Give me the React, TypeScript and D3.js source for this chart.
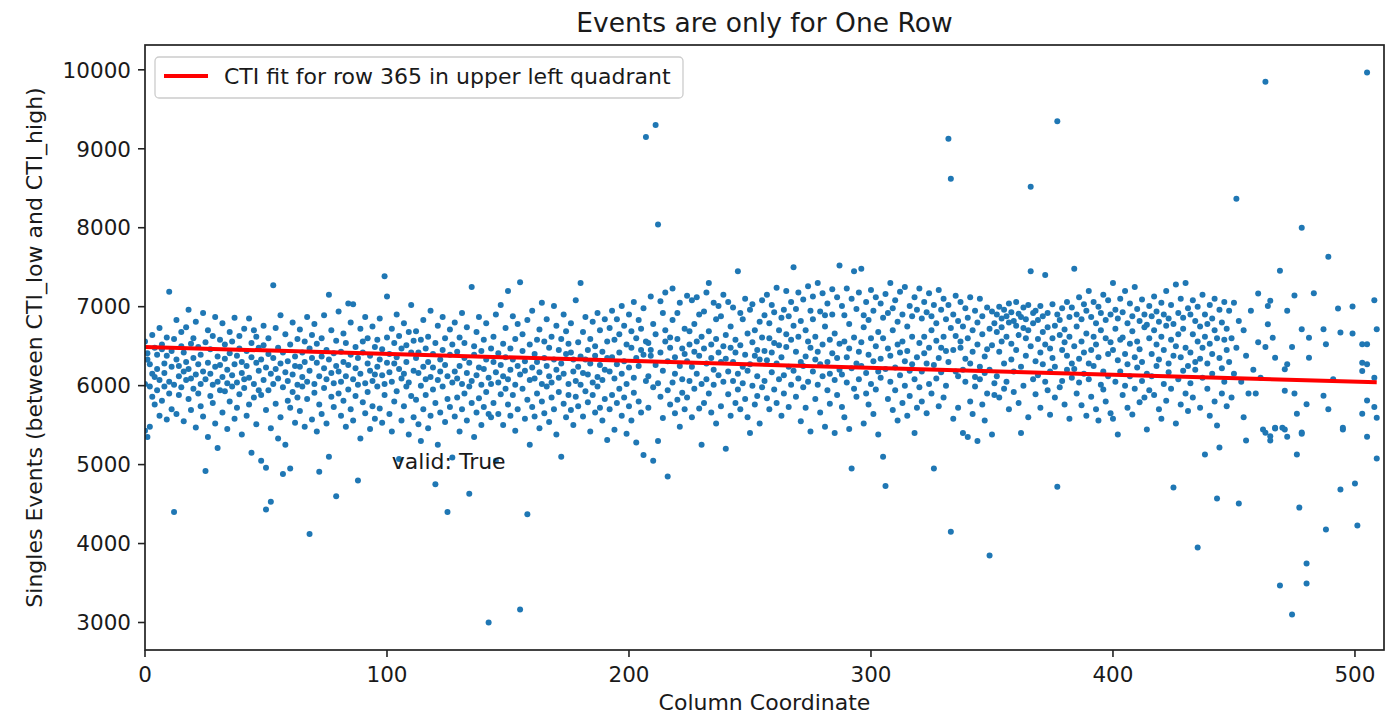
import React from 'react';
import * as d3 from 'd3';

const title = 'Events are only for One Row';
const xLabel = 'Column Coordinate';
const yLabel = 'Singles Events (between CTI_low and CTI_high)';
const legendLabel = 'CTI fit for row 365 in upper left quadrant';
const annotation = 'valid: True';
const annotationAt = [102, 4950];
const xTicks = [0, 100, 200, 300, 400, 500];
const yTicks = [3000, 4000, 5000, 6000, 7000, 8000, 9000, 10000];
const xDomain = [0, 512];
const fitX = [0, 509];
const fitY = [6490, 6043];

const cols000 = [[0,6560],[0,5430],[0,6020],[1,5350],[1,6410],[1,6330],[2,5480],[2,5990],[2,6270],[3,6150],[3,6640],[3,5860],[4,5760],[4,6110],[4,6480],[5,6390],[5,6210],[5,5940],[6,6730],[6,5620],[6,6070],[7,6460],[7,6520],[7,5810],[8,5990],[8,6280],[8,6160],[9,5570],[9,6610],[9,6380],[10,7190],[10,6050],[10,5900],[11,6240],[11,5700],[11,6440],[12,4400],[12,6010],[12,6590],[13,6330],[13,6830],[13,5640],[14,6120],[14,5880],[14,6250],[15,6500],[15,5980],[15,6680]];
const cols016 = [[16,6180],[16,5550],[16,6420],[17,6070],[17,6740],[17,6300],[18,5830],[18,6210],[18,6960],[19,6530],[19,5690],[19,6090],[20,6350],[20,6600],[20,5960],[21,5470],[21,6140],[21,6810],[22,6270],[22,5900],[22,6490],[23,6020],[23,6390],[23,5740],[24,6920],[24,6180],[24,5610],[25,4920],[25,6550],[25,6080],[26,5350],[26,6290],[26,6700],[27,6460],[27,5870],[27,6150],[28,6010],[28,6630],[28,5780],[29,6240],[29,5520],[29,6870],[30,5210],[30,6370],[30,6050],[31,6580],[31,5940],[31,6260]];
const cols032 = [[32,6110],[32,6790],[32,5660],[33,6340],[33,5930],[33,6520],[34,5450],[34,6200],[34,6030],[35,6680],[35,6410],[35,5800],[36,5990],[36,6560],[36,6130],[37,6270],[37,5580],[37,6860],[38,6380],[38,6040],[38,5720],[39,5890],[39,6470],[39,6630],[40,6160],[40,5380],[40,6300],[41,6720],[41,5970],[41,6080],[42,5620],[42,6440],[42,6250],[43,6850],[43,6100],[43,5760],[44,5150],[44,6360],[44,6540],[45,6020],[45,5850],[45,6700],[46,6290],[46,6620],[46,5510],[47,5940],[47,6190],[47,6480]];
const cols048 = [[48,5050],[48,6330],[48,5880],[49,6510],[49,6070],[49,6760],[50,4430],[50,4960],[50,6230],[50,5690],[51,6400],[51,5940],[51,6600],[52,4530],[52,6150],[52,5460],[53,7270],[53,6020],[53,6350],[54,6730],[54,5770],[54,6210],[55,5330],[55,6480],[55,6090],[56,6280],[56,6890],[56,5600],[57,4880],[57,5980],[57,6420],[58,6170],[58,6650],[58,5250],[59,5810],[59,6310],[59,6060],[60,4950],[60,6520],[60,5720],[61,6800],[61,6140],[61,5920],[62,6370],[62,5530],[62,6250],[63,6010],[63,6590],[63,5850]];
const cols064 = [[64,6240],[64,5680],[64,6710],[65,6420],[65,5990],[65,6110],[66,5480],[66,6560],[66,6300],[67,6870],[67,6050],[67,5830],[68,4120],[68,6190],[68,6470],[69,5570],[69,6350],[69,6640],[70,6020],[70,6780],[70,5910],[71,6290],[71,5420],[71,6530],[72,4910],[72,6120],[72,5760],[73,6600],[73,6370],[73,5640],[74,5970],[74,6220],[74,6890],[75,6450],[75,5520],[75,6080],[76,7150],[76,5100],[76,6330],[77,5860],[77,6700],[77,6160],[78,6410],[78,5730],[78,6030],[79,4600],[79,6250],[79,6570]];
const cols080 = [[80,6940],[80,5900],[80,6180],[81,5620],[81,6430],[81,6050],[82,6300],[82,6660],[82,5810],[83,5480],[83,6120],[83,6540],[84,7040],[84,6260],[84,5950],[85,6390],[85,5700],[85,6800],[86,7030],[86,6080],[86,5560],[87,6220],[87,6490],[87,5870],[88,4800],[88,6350],[88,6010],[89,5330],[89,6720],[89,6150],[90,6560],[90,5790],[90,6420],[91,6030],[91,6870],[91,5650],[92,6280],[92,5920],[92,6600],[93,5450],[93,6190],[93,6380],[94,6750],[94,6060],[94,5740],[95,6140],[95,5580],[95,6490]];
const cols096 = [[96,5990],[96,6580],[96,6240],[97,6330],[97,5710],[97,6850],[98,5530],[98,6130],[98,6460],[99,7384],[99,6020],[99,5880],[100,7130],[100,6290],[100,6610],[101,5640],[101,6400],[101,6170],[102,6720],[102,5420],[102,6050],[103,6280],[103,6540],[103,5800],[104,5930],[104,6360],[104,6900],[105,5070],[105,6210],[105,6630],[106,6470],[106,5560],[106,6090],[107,6790],[107,6150],[107,5740],[108,5990],[108,6510],[108,6300],[109,5380],[109,6680],[109,6040],[110,7020],[110,5870],[110,6420],[111,6190],[111,5600],[111,6570]];
const cols112 = [[112,6350],[112,5820],[112,6690],[113,5510],[113,6160],[113,6420],[114,5300],[114,6580],[114,6000],[115,6240],[115,5700],[115,6830],[116,6470],[116,6080],[116,5880],[117,5460],[117,6300],[117,6620],[118,6950],[118,6110],[118,5620],[119,6400],[119,5950],[119,6230],[120,4750],[120,6540],[120,5780],[121,5250],[121,6070],[121,6760],[122,6330],[122,5660],[122,6180],[123,6870],[123,5990],[123,6450],[124,5540],[124,6260],[124,6600],[125,4400],[125,6120],[125,5830],[126,6710],[126,6390],[126,5730],[127,5090],[127,6040],[127,6520]];
const cols128 = [[128,6180],[128,5610],[128,6800],[129,6430],[129,5850],[129,6090],[130,5420],[130,6610],[130,6250],[131,6020],[131,6920],[131,5700],[132,6350],[132,5900],[132,6540],[133,5560],[133,6160],[133,6740],[134,4630],[134,6290],[134,5990],[135,7250],[135,6060],[135,5780],[136,5350],[136,6500],[136,6390],[137,6680],[137,5660],[137,6130],[138,6230],[138,5840],[138,6870],[139,5500],[139,6440],[139,6010],[140,6580],[140,5730],[140,6210],[141,5920],[141,6330],[141,6790],[142,3000],[142,6100],[142,5640],[143,6470],[143,6020],[143,5600]];
const cols144 = [[144,6300],[144,5780],[144,6620],[145,5050],[145,6170],[145,6900],[146,5640],[146,6410],[146,6040],[147,7020],[147,6260],[147,5890],[148,5500],[148,6530],[148,6120],[149,6730],[149,5960],[149,6360],[150,7200],[150,5760],[150,6080],[151,6470],[151,6200],[151,5620],[152,6880],[152,5880],[152,6330],[153,5430],[153,6590],[153,6010],[154,6250],[154,6780],[154,5700],[155,3165],[155,7310],[155,6140],[156,5960],[156,6440],[156,6650],[157,5580],[157,6190],[157,6310],[158,4370],[158,6830],[158,5820],[159,6070],[159,6520],[159,5250]];
const cols160 = [[160,6950],[160,6230],[160,5730],[161,5610],[161,6400],[161,6090],[162,6580],[162,5900],[162,6300],[163,5460],[163,6710],[163,6170],[164,7050],[164,6020],[164,5800],[165,6350],[165,6560],[165,5650],[166,5990],[166,6840],[166,6250],[167,5540],[167,6120],[167,6480],[168,6620],[168,5850],[168,6040],[169,7010],[169,6330],[169,5700],[170,5380],[170,6200],[170,6760],[171,6450],[171,5920],[171,6100],[172,5100],[172,6590],[172,6280],[173,6900],[173,5770],[173,6150],[174,5600],[174,6400],[174,6690],[175,6020],[175,6530],[175,5880]];
const cols176 = [[176,6420],[176,5690],[176,6790],[177,5500],[177,6180],[177,6330],[178,7080],[178,5860],[178,6060],[179,6550],[179,6240],[179,5740],[180,7300],[180,6010],[180,6370],[181,5610],[181,6680],[181,6160],[182,6330],[182,5930],[182,6870],[183,6450],[183,5790],[183,6140],[184,5420],[184,6590],[184,6280],[185,6810],[185,6040],[185,5880],[186,5660],[186,6380],[186,6500],[187,6920],[187,6110],[187,5990],[188,5720],[188,6260],[188,6700],[189,6430],[189,5560],[189,6070],[190,6840],[190,6200],[190,5830],[191,5310],[191,6560],[191,6350]];
const cols192 = [[192,6180],[192,6730],[192,5700],[193,6360],[193,5880],[193,6950],[194,5440],[194,6090],[194,6580],[195,6270],[195,6840],[195,5780],[196,5960],[196,6420],[196,6650],[197,7010],[197,5620],[197,6150],[198,6310],[198,5850],[198,6760],[199,5390],[199,6520],[199,6020],[200,6900],[200,6230],[200,5740],[201,5560],[201,6480],[201,6690],[202,7060],[202,6100],[202,5910],[203,5280],[203,6350],[203,6600],[204,6830],[204,5800],[204,6250],[205,6450],[205,5660],[205,6720],[206,5120],[206,6390],[206,6980],[207,9150],[207,6060],[207,6560]];
const cols208 = [[208,6120],[208,6540],[208,5720],[209,7130],[209,6380],[209,6450],[210,5050],[210,5980],[210,6780],[211,9300],[211,6650],[211,6260],[212,8040],[212,5300],[212,6030],[213,6420],[213,7070],[213,5860],[214,5590],[214,6190],[214,6920],[215,7180],[215,6560],[215,6700],[216,4850],[216,6310],[216,5940],[217,6610],[217,5760],[217,6480],[218,7230],[218,6040],[218,6830],[219,5650],[219,6360],[219,6150],[220,6590],[220,6920],[220,5820],[221,5480],[221,6250],[221,7050],[222,6470],[222,6080],[222,5910],[223,6720],[223,5700],[223,6400]];
const cols224 = [[224,7140],[224,6310],[224,5850],[225,6520],[225,6690],[225,6060],[226,5600],[226,6240],[226,7080],[227,6430],[227,5960],[227,6780],[228,7120],[228,6150],[228,6560],[229,5710],[229,6380],[229,6900],[230,5250],[230,6620],[230,6020],[231,6940],[231,6470],[231,5780],[232,7180],[232,6280],[232,6080],[233,7300],[233,5900],[233,6690],[234,6350],[234,6520],[234,5660],[235,7050],[235,6200],[235,6010],[236,6840],[236,6590],[236,5520],[237,6130],[237,6420],[237,7010],[238,5740],[238,6880],[238,6300],[239,7150],[239,6050],[239,6500]];
const cols240 = [[240,5200],[240,6640],[240,6340],[241,7060],[241,5890],[241,6180],[242,6480],[242,6750],[242,5620],[243,6060],[243,6990],[243,6300],[244,5780],[244,6580],[244,6420],[245,7450],[245,6150],[245,5950],[246,6920],[246,6510],[246,5700],[247,6240],[247,6840],[247,6030],[248,7100],[248,5830],[248,6390],[249,6660],[249,6190],[249,5600],[250,5400],[250,6960],[250,6270],[251,6550],[251,6000],[251,7030],[252,6380],[252,5760],[252,6700],[253,6120],[253,6450],[253,5870],[254,6810],[254,5520],[254,6330],[255,7080],[255,6610],[255,5980]];
const cols256 = [[256,6440],[256,6890],[256,6060],[257,7150],[257,5840],[257,6320],[258,6600],[258,6790],[258,5700],[259,6170],[259,7020],[259,6420],[260,5950],[260,6540],[260,6930],[261,7240],[261,6280],[261,5780],[262,6700],[262,6080],[262,6510],[263,5620],[263,6860],[263,6360],[264,6960],[264,6130],[264,5900],[265,7200],[265,6490],[265,6650],[266,5730],[266,6240],[266,6880],[267,6580],[267,7060],[267,6010],[268,7500],[268,6190],[268,6760],[269,5860],[269,6430],[269,6970],[270,7180],[270,6620],[270,6090],[271,6300],[271,5550],[271,6820]];
const cols272 = [[272,7090],[272,6250],[272,5980],[273,6700],[273,6370],[273,5720],[274,7260],[274,6050],[274,6560],[275,5420],[275,6950],[275,6480],[276,6180],[276,7130],[276,6840],[277,5830],[277,6330],[277,6620],[278,7300],[278,6010],[278,6430],[279,6940],[279,5660],[279,6270],[280,7170],[280,6520],[280,6120],[281,5480],[281,6890],[281,6750],[282,6300],[282,5940],[282,7040],[283,6580],[283,6150],[283,5770],[284,7220],[284,6410],[284,6900],[285,5400],[285,6070],[285,6660],[286,7120],[286,6350],[286,5880],[287,7520],[287,6530],[287,6200]];
const cols288 = [[288,7010],[288,6140],[288,5730],[289,6560],[289,6890],[289,5600],[290,7230],[290,6360],[290,6040],[291,5450],[291,6780],[291,6470],[292,4950],[292,7100],[292,6220],[293,7450],[293,6610],[293,5960],[294,6970],[294,6280],[294,5860],[295,6430],[295,7180],[295,6080],[296,7480],[296,6550],[296,6250],[297,5520],[297,6890],[297,6740],[298,6160],[298,7060],[298,5900],[299,6390],[299,6830],[299,5760],[300,7210],[300,6020],[300,6600],[301,5640],[301,6950],[301,6310],[302,6500],[302,7120],[302,5950],[303,5380],[303,6680],[303,6180]];
const cols304 = [[304,7040],[304,6340],[304,6100],[305,5100],[305,6860],[305,6600],[306,4730],[306,7160],[306,6210],[307,5830],[307,6470],[307,6920],[308,7300],[308,6050],[308,6380],[309,5690],[309,6980],[309,6700],[310,6230],[310,7080],[310,5940],[311,6520],[311,6810],[311,5560],[312,7190],[312,6130],[312,6420],[313,5780],[313,6900],[313,6560],[314,7250],[314,6000],[314,6310],[315,5620],[315,6750],[315,6440],[316,7010],[316,6190],[316,5870],[317,6620],[317,6880],[317,6270],[318,5400],[318,7120],[318,6080],[319,6960],[319,6360],[319,5720]];
const cols320 = [[320,7230],[320,6540],[320,5980],[321,6850],[321,6180],[321,5800],[322,7060],[322,6410],[322,6620],[323,5650],[323,6930],[323,6280],[324,7170],[324,6020],[324,6480],[325,6880],[325,5900],[325,6700],[326,4950],[326,6260],[326,7020],[327,6790],[327,6090],[327,6570],[328,7210],[328,5740],[328,6350],[329,6960],[329,6480],[329,6170],[330,7100],[330,5850],[330,6620],[331,6440],[331,6840],[331,6000],[332,9126],[332,7020],[332,6300],[333,8620],[333,4150],[333,6730],[334,5580],[334,6900],[334,6450],[335,7140],[335,6180],[335,6630]];
const cols336 = [[336,6820],[336,6120],[336,5720],[337,7060],[337,6480],[337,6560],[338,5400],[338,6750],[338,6200],[339,6980],[339,6340],[339,6050],[340,5350],[340,6860],[340,6600],[341,7120],[341,5800],[341,6280],[342,6700],[342,6430],[342,5640],[343,6950],[343,6110],[343,5990],[344,5300],[344,6800],[344,6520],[345,7100],[345,6240],[345,6080],[346,6880],[346,6650],[346,5760],[347,5560],[347,6370],[347,6160],[348,6990],[348,6460],[348,5900],[349,3850],[349,6720],[349,6200],[350,5380],[350,6940],[350,6510],[351,6790],[351,6030],[351,5880]];
const cols352 = [[352,6900],[352,6680],[352,6120],[353,7000],[353,6430],[353,5850],[354,6850],[354,6560],[354,6740],[355,6960],[355,6280],[355,5960],[356,6620],[356,6880],[356,6050],[357,7040],[357,6800],[357,5700],[358,6530],[358,6930],[358,6330],[359,6820],[359,6180],[359,5920],[360,7060],[360,6760],[360,6450],[361,6910],[361,6640],[361,5780],[362,5400],[362,6870],[362,6240],[363,6990],[363,6730],[363,6000],[364,6840],[364,6600],[364,6380],[365,7020],[365,6700],[365,5600],[366,8520],[366,7450],[366,6500],[367,6790],[367,6920],[367,6080]];
const cols368 = [[368,6950],[368,6310],[368,5890],[369,6830],[369,6590],[369,6130],[370,7010],[370,6420],[370,5720],[371,6680],[371,6880],[371,6270],[372,7400],[372,6050],[372,6520],[373,6920],[373,6740],[373,5940],[374,6180],[374,6470],[374,5630],[375,7030],[375,6600],[375,6350],[376,6760],[376,6240],[376,5850],[377,9350],[377,4720],[377,6900],[378,6640],[378,6830],[378,5980],[379,6980],[379,6450],[379,6060],[380,6550],[380,6710],[380,5760],[381,7060],[381,6200],[381,6380],[382,6870],[382,6620],[382,5580],[383,6990],[383,6280],[383,6100]];
const cols384 = [[384,7480],[384,6500],[384,6210],[385,6900],[385,6750],[385,5900],[386,7120],[386,6340],[386,6040],[387,6560],[387,6840],[387,5750],[388,7030],[388,6420],[388,6150],[389,6950],[389,6660],[389,5620],[390,7200],[390,6280],[390,6080],[391,6870],[391,6450],[391,5860],[392,6620],[392,7060],[392,6250],[393,6790],[393,6520],[393,5700],[394,7000],[394,6360],[394,5557],[395,6920],[395,6700],[395,6010],[396,7150],[396,6180],[396,5950],[397,6830],[397,6600],[397,5800],[398,7080],[398,6400],[398,6120],[399,6900],[399,6550],[399,5650]];
const cols400 = [[400,7300],[400,6450],[400,5582],[401,6960],[401,6720],[401,6050],[402,6850],[402,6320],[402,5380],[403,7100],[403,6580],[403,6180],[404,6930],[404,6610],[404,5880],[405,7200],[405,6400],[405,6000],[406,6790],[406,6270],[406,5720],[407,7040],[407,6530],[407,6120],[408,5633],[408,6880],[408,6690],[409,7250],[409,6360],[409,5960],[410,6970],[410,6560],[410,6230],[411,6820],[411,6460],[411,5790],[412,7090],[412,6300],[412,6060],[413,6900],[413,6740],[413,5850],[414,5443],[414,6770],[414,6150],[415,7010],[415,6600],[415,5940]];
const cols416 = [[416,6880],[416,6400],[416,6120],[417,7130],[417,6700],[417,5880],[418,6940],[418,6520],[418,6250],[419,6810],[419,6330],[419,5700],[420,5582],[420,7050],[420,6620],[421,6900],[421,6450],[421,6020],[422,7200],[422,6760],[422,5810],[423,6850],[423,6280],[423,6170],[424,7020],[424,6580],[424,5960],[425,4709],[425,6780],[425,6380],[426,5519],[426,7280],[426,6500],[427,6920],[427,6650],[427,6080],[428,7100],[428,6360],[428,5760],[429,6860],[429,6720],[429,6190],[430,7300],[430,6480],[430,5900],[431,6980],[431,6250],[431,5680]];
const cols432 = [[432,6900],[432,6420],[432,6030],[433,7080],[433,6650],[433,5850],[434,6820],[434,6300],[434,6200],[435,3949],[435,7000],[435,6560],[436,6750],[436,6340],[436,5720],[437,7150],[437,6480],[437,6100],[438,5127],[438,6900],[438,6620],[439,6780],[439,6280],[439,5960],[440,7020],[440,6530],[440,5620],[441,6850],[441,6400],[441,6150],[442,7100],[442,6700],[442,5800],[443,4570],[443,5494],[443,6600],[444,5215],[444,6960],[444,6350],[445,6800],[445,6220],[445,5900],[446,7060],[446,6580],[446,6050],[447,6720],[447,6450],[447,5740]];
const cols448 = [[448,6950],[448,6300],[449,6600],[449,5850],[450,7050],[450,6150],[451,8367],[451,6480],[452,4506],[452,6820],[453,6050],[454,6700],[454,5600],[455,5304],[455,6380],[456,5900],[457,6950],[458,6200],[459,5900],[460,7166],[460,6550],[461,6100],[462,5443],[463,6490],[463,9848],[463,5402]];
const cols464 = [[464,7010],[464,6778],[465,5304],[465,7074],[465,5360],[466,6608],[467,6354],[467,5458],[467,5468],[469,3468],[469,7454],[470,5468],[471,5446],[471,6207],[471,5934],[472,6947],[472,6271],[472,5354],[474,6490],[474,3101],[475,7141],[475,5900],[476,5127],[476,5645],[477,4456],[478,6715],[478,8000],[478,5405],[478,5390]];
const cols480 = [[480,3747],[480,3494],[480,5764],[481,6608],[481,6354],[483,7171],[487,6715],[487,5871],[488,4177],[488,6524],[489,7633],[489,5700],[491,6080],[493,6976],[494,6672],[494,4684],[495,5446],[495,5468]];
const cols496 = [[499,7001],[499,6660],[500,4760],[501,4228],[503,6524],[503,6290],[503,6186],[503,5645],[505,9966],[505,6524],[505,6271],[505,5813],[505,5354],[508,7082],[508,6100],[508,5728],[509,6715],[509,5076],[509,5593]];

const FONT = '"DejaVu Sans", sans-serif';
const DOT = '#1f77b4';
const TEXT = '#1a1a1a';

export default function App() {
  const W = 1388, H = 715;
  const left = 145, right = 1384, top = 45, bottom = 650;
  const points = [
    ...cols000, ...cols016, ...cols032, ...cols048, ...cols064, ...cols080, ...cols096, ...cols112,
    ...cols128, ...cols144, ...cols160, ...cols176, ...cols192, ...cols208, ...cols224, ...cols240,
    ...cols256, ...cols272, ...cols288, ...cols304, ...cols320, ...cols336, ...cols352, ...cols368,
    ...cols384, ...cols400, ...cols416, ...cols432, ...cols448, ...cols464, ...cols480, ...cols496,
  ];
  const [yMin, yMax] = d3.extent(points, (p) => p[1]) as [number, number];
  const pad = (yMax - yMin) * 0.05;
  const x = d3.scaleLinear().domain(xDomain).range([left, right]);
  const y = d3.scaleLinear().domain([yMin - pad, yMax + pad]).range([bottom, top]);
  const line = d3.line<number>().x((_, i) => x(fitX[i])).y((d) => y(d));
  const tickLen = 7;

  return (
    <svg width={W} height={H} style={{ position: 'absolute', left: 0, top: 0, background: '#fff' }} fontFamily={FONT}>
      <rect x={0} y={0} width={W} height={H} fill="#fff" />
      <defs>
        <clipPath id="plotclip">
          <rect x={left} y={top} width={right - left} height={bottom - top} />
        </clipPath>
      </defs>
      <g clipPath="url(#plotclip)">
        {points.map((p, i) => (
          <circle key={i} cx={x(p[0])} cy={y(p[1])} r={3} fill={DOT} />
        ))}
        <path d={line(fitY) || ''} fill="none" stroke="#ff0000" strokeWidth={4} />
      </g>
      <text x={x(annotationAt[0])} y={y(annotationAt[1])} fontSize={22} fill={TEXT}>{annotation}</text>
      <rect x={left} y={top} width={right - left} height={bottom - top} fill="none" stroke="#222" strokeWidth={1.7} />
      {xTicks.map((t) => (
        <g key={'x' + t}>
          <line x1={x(t)} x2={x(t)} y1={bottom} y2={bottom + tickLen} stroke="#222" strokeWidth={1.6} />
          <text x={x(t)} y={bottom + 32} textAnchor="middle" fontSize={21.5} fill={TEXT}>{t}</text>
        </g>
      ))}
      {yTicks.map((t) => (
        <g key={'y' + t}>
          <line x1={left - tickLen} x2={left} y1={y(t)} y2={y(t)} stroke="#222" strokeWidth={1.6} />
          <text x={left - 14} y={y(t)} dy="0.36em" textAnchor="end" fontSize={21.5} fill={TEXT}>{t}</text>
        </g>
      ))}
      <text x={(left + right) / 2} y={710} textAnchor="middle" fontSize={22} fill={TEXT}>{xLabel}</text>
      <text transform={`translate(42, ${(top + bottom) / 2}) rotate(-90)`} textAnchor="middle" fontSize={22} fill={TEXT}>{yLabel}</text>
      <text x={(left + right) / 2} y={32} textAnchor="middle" fontSize={26.5} fill={TEXT}>{title}</text>
      <g>
        <rect x={155} y={57} width={528} height={41} rx={4} fill="#fff" fillOpacity={0.8} stroke="#cccccc" strokeWidth={1.3} />
        <line x1={164} x2={208} y1={76} y2={76} stroke="#ff0000" strokeWidth={4} />
        <text x={224} y={84} fontSize={22} fill={TEXT}>{legendLabel}</text>
      </g>
    </svg>
  );
}
